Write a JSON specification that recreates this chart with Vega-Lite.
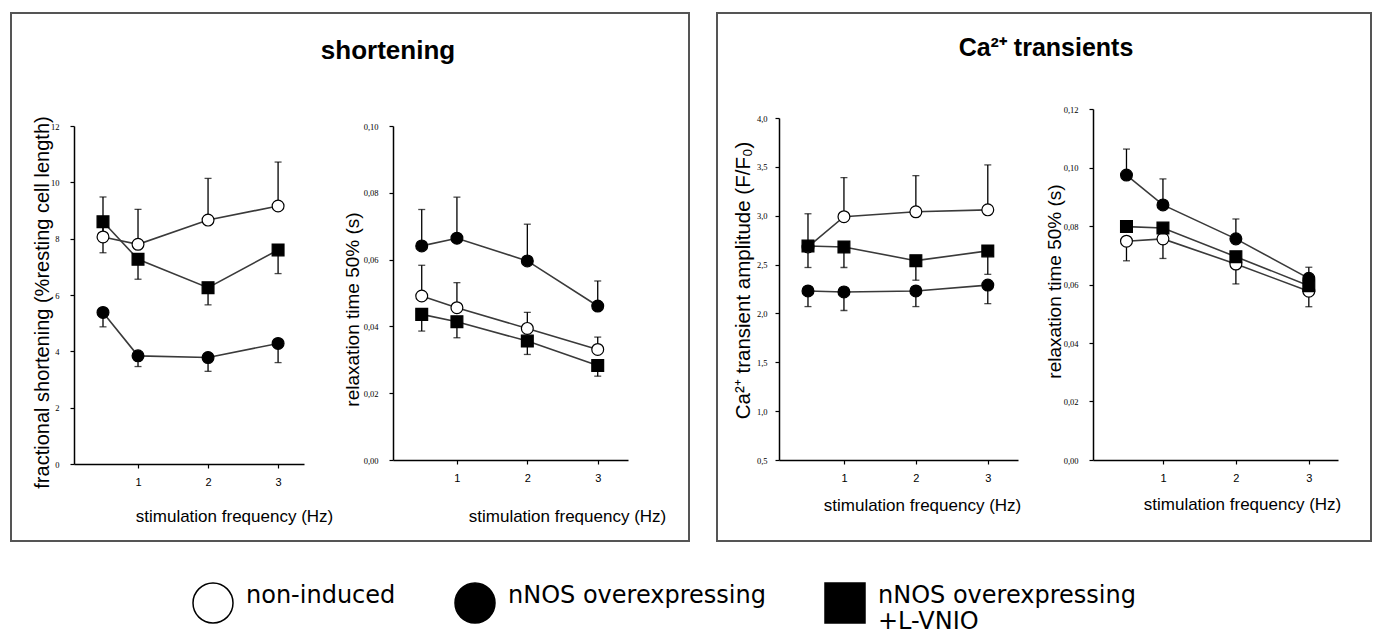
{
  "$schema": "https://vega.github.io/schema/vega-lite/v6.json",
  "padding": {"left": 10, "top": 12, "right": 0, "bottom": 0},
  "background": "white",
  "datasets": {
    "d": [
      {"p": 1, "g": "non-induced", "x": 0.5, "v": 8.06, "e": 9.48},
      {"p": 1, "g": "non-induced", "x": 1, "v": 7.8, "e": 9.04},
      {"p": 1, "g": "non-induced", "x": 2, "v": 8.66, "e": 10.14},
      {"p": 1, "g": "non-induced", "x": 3, "v": 9.16, "e": 10.72},
      {"p": 1, "g": "nNOS overexpressing", "x": 0.5, "v": 5.38, "e": 4.87},
      {"p": 1, "g": "nNOS overexpressing", "x": 1, "v": 3.84, "e": 3.46},
      {"p": 1, "g": "nNOS overexpressing", "x": 2, "v": 3.78, "e": 3.29},
      {"p": 1, "g": "nNOS overexpressing", "x": 3, "v": 4.28, "e": 3.6},
      {"p": 1, "g": "nNOS overexpressing +L-VNIO", "x": 0.5, "v": 8.6, "e": 7.5},
      {"p": 1, "g": "nNOS overexpressing +L-VNIO", "x": 1, "v": 7.27, "e": 6.56},
      {"p": 1, "g": "nNOS overexpressing +L-VNIO", "x": 2, "v": 6.26, "e": 5.65},
      {"p": 1, "g": "nNOS overexpressing +L-VNIO", "x": 3, "v": 7.6, "e": 6.76},

      {"p": 2, "g": "non-induced", "x": 0.5, "v": 0.0491, "e": 0.0583},
      {"p": 2, "g": "non-induced", "x": 1, "v": 0.0456, "e": 0.0531},
      {"p": 2, "g": "non-induced", "x": 2, "v": 0.0394, "e": 0.0442},
      {"p": 2, "g": "non-induced", "x": 3, "v": 0.0331, "e": 0.0368},
      {"p": 2, "g": "nNOS overexpressing", "x": 0.5, "v": 0.0641, "e": 0.075},
      {"p": 2, "g": "nNOS overexpressing", "x": 1, "v": 0.0664, "e": 0.0787},
      {"p": 2, "g": "nNOS overexpressing", "x": 2, "v": 0.0596, "e": 0.0706},
      {"p": 2, "g": "nNOS overexpressing", "x": 3, "v": 0.0461, "e": 0.0536},
      {"p": 2, "g": "nNOS overexpressing +L-VNIO", "x": 0.5, "v": 0.0436, "e": 0.0386},
      {"p": 2, "g": "nNOS overexpressing +L-VNIO", "x": 1, "v": 0.0414, "e": 0.0366},
      {"p": 2, "g": "nNOS overexpressing +L-VNIO", "x": 2, "v": 0.0356, "e": 0.0316},
      {"p": 2, "g": "nNOS overexpressing +L-VNIO", "x": 3, "v": 0.0283, "e": 0.0251},

      {"p": 3, "g": "non-induced", "x": 0.5, "v": 2.68, "e": 3.02},
      {"p": 3, "g": "non-induced", "x": 1, "v": 2.99, "e": 3.39},
      {"p": 3, "g": "non-induced", "x": 2, "v": 3.04, "e": 3.41},
      {"p": 3, "g": "non-induced", "x": 3, "v": 3.06, "e": 3.52},
      {"p": 3, "g": "nNOS overexpressing", "x": 0.5, "v": 2.23, "e": 2.07},
      {"p": 3, "g": "nNOS overexpressing", "x": 1, "v": 2.22, "e": 2.03},
      {"p": 3, "g": "nNOS overexpressing", "x": 2, "v": 2.23, "e": 2.07},
      {"p": 3, "g": "nNOS overexpressing", "x": 3, "v": 2.29, "e": 2.1},
      {"p": 3, "g": "nNOS overexpressing +L-VNIO", "x": 0.5, "v": 2.69, "e": 2.47},
      {"p": 3, "g": "nNOS overexpressing +L-VNIO", "x": 1, "v": 2.68, "e": 2.47},
      {"p": 3, "g": "nNOS overexpressing +L-VNIO", "x": 2, "v": 2.54, "e": 2.34},
      {"p": 3, "g": "nNOS overexpressing +L-VNIO", "x": 3, "v": 2.64, "e": 2.4},

      {"p": 4, "g": "non-induced", "x": 0.5, "v": 0.0748, "e": 0.0681},
      {"p": 4, "g": "non-induced", "x": 1, "v": 0.0756, "e": 0.0689},
      {"p": 4, "g": "non-induced", "x": 2, "v": 0.067, "e": 0.0602},
      {"p": 4, "g": "non-induced", "x": 3, "v": 0.0577, "e": 0.0524},
      {"p": 4, "g": "nNOS overexpressing", "x": 0.5, "v": 0.0974, "e": 0.1063},
      {"p": 4, "g": "nNOS overexpressing", "x": 1, "v": 0.0872, "e": 0.0961},
      {"p": 4, "g": "nNOS overexpressing", "x": 2, "v": 0.0756, "e": 0.0824},
      {"p": 4, "g": "nNOS overexpressing", "x": 3, "v": 0.0621, "e": 0.0659},
      {"p": 4, "g": "nNOS overexpressing +L-VNIO", "x": 0.5, "v": 0.0798, "e": 0.0798},
      {"p": 4, "g": "nNOS overexpressing +L-VNIO", "x": 1, "v": 0.0793, "e": 0.0793},
      {"p": 4, "g": "nNOS overexpressing +L-VNIO", "x": 2, "v": 0.0695, "e": 0.0695},
      {"p": 4, "g": "nNOS overexpressing +L-VNIO", "x": 3, "v": 0.0596, "e": 0.0596}
    ]
  },
  "bounds": "flush",
  "spacing": 28,
  "hconcat": [
    {
      "width": 678, "height": 528,
      "view": {"stroke": "#555", "strokeWidth": 2},
      "title": {"text": "shortening", "offset": -51, "dx": 38},
      "data": {"name": "d"},
      "resolve": {"scale": {"x": "independent", "y": "independent"}, "axis": {"x": "independent", "y": "independent"}},
      "layer": [
        {
          "transform": [{"filter": "datum.p == 1"}],
          "encoding": {
            "x": {"field": "x", "type": "quantitative", "scale": {"domain": [0.086, 3.37], "range": [63, 293], "nice": false, "zero": false},
              "axis": {"orient": "bottom", "offset": -77, "values": [1, 2, 3], "format": "d", "title": "stimulation frequency (Hz)", "titleX": 223, "titleY": 52}},
            "y": {"field": "v", "type": "quantitative", "title": "fractional shortening (%resting  cell length)", "scale": {"domain": [0, 12], "range": [451, 113], "nice": false, "zero": false},
              "axis": {"orient": "left", "offset": -63, "values": [0, 2, 4, 6, 8, 10, 12], "format": "d", "labelPadding": 11, "titleFontSize": 20, "titleX": -32, "titleY": 289}}
          },
          "layer": [
            {"mark": {"type": "line", "color": "#3a3a3a", "strokeWidth": 1.6}, "encoding": {"detail": {"field": "g"}}},
            {"mark": {"type": "rule", "color": "black", "strokeWidth": 1.3}, "encoding": {"y2": {"field": "e"}}},
            {"mark": {"type": "tick", "orient": "horizontal", "color": "black", "size": 7, "thickness": 1.3}, "encoding": {"y": {"field": "e", "type": "quantitative", "title": "fractional shortening (%resting  cell length)"}}},
            {"mark": {"type": "point", "filled": true, "strokeWidth": 1.2, "size": 140, "opacity": 1},
              "encoding": {
                "shape": {"field": "g", "type": "nominal", "scale": {"domain": ["non-induced", "nNOS overexpressing", "nNOS overexpressing +L-VNIO"], "range": ["circle", "circle", "square"]},
                  "legend": {"title": null, "orient": "none", "legendX": 181, "legendY": 569, "direction": "horizontal", "symbolSize": 1600, "symbolStrokeWidth": 1.5, "labelFontSize": 24, "labelFont": "DejaVu Sans", "labelColor": "black", "labelBaseline": "alphabetic", "labelLimit": 500, "labelOffset": 12, "columnPadding": 56, "padding": 0, "labelExpr": "datum.label == 'nNOS overexpressing +L-VNIO' ? ['nNOS overexpressing', ' +L-VNIO'] : [datum.label, '']"}},
                "fill": {"field": "g", "type": "nominal", "scale": {"domain": ["non-induced", "nNOS overexpressing", "nNOS overexpressing +L-VNIO"], "range": ["white", "black", "black"]},
                  "legend": {"title": null, "orient": "none", "legendX": 181, "legendY": 569, "direction": "horizontal", "symbolSize": 1600, "symbolStrokeWidth": 1.5, "labelFontSize": 24, "labelFont": "DejaVu Sans", "labelColor": "black", "labelBaseline": "alphabetic", "labelLimit": 500, "labelOffset": 12, "columnPadding": 56, "padding": 0, "labelExpr": "datum.label == 'nNOS overexpressing +L-VNIO' ? ['nNOS overexpressing', ' +L-VNIO'] : [datum.label, '']"}},
                "stroke": {"field": "g", "type": "nominal", "scale": {"domain": ["non-induced", "nNOS overexpressing", "nNOS overexpressing +L-VNIO"], "range": ["black", "black", "black"]},
                  "legend": {"title": null, "orient": "none", "legendX": 181, "legendY": 569, "direction": "horizontal", "symbolSize": 1600, "symbolStrokeWidth": 1.5, "labelFontSize": 24, "labelFont": "DejaVu Sans", "labelColor": "black", "labelBaseline": "alphabetic", "labelLimit": 500, "labelOffset": 12, "columnPadding": 56, "padding": 0, "labelExpr": "datum.label == 'nNOS overexpressing +L-VNIO' ? ['nNOS overexpressing', ' +L-VNIO'] : [datum.label, '']"}}
              }}
          ]
        },
        {
          "transform": [{"filter": "datum.p == 2"}],
          "encoding": {
            "x": {"field": "x", "type": "quantitative", "scale": {"domain": [0.092, 3.43], "range": [382, 617], "nice": false, "zero": false},
              "axis": {"orient": "bottom", "offset": -81, "values": [1, 2, 3], "format": "d", "title": "stimulation frequency (Hz)", "titleX": 556, "titleY": 56}},
            "y": {"field": "v", "type": "quantitative", "title": "relaxation time 50% (s)", "scale": {"domain": [0, 0.1], "range": [447, 113], "nice": false, "zero": false},
              "axis": {"orient": "left", "offset": -382, "values": [0, 0.02, 0.04, 0.06, 0.08, 0.1], "labelExpr": "replace(format(datum.value, '.2f'), '.', ',')", "labelPadding": 11, "titleX": -41, "titleY": 296}}
          },
          "layer": [
            {"mark": {"type": "line", "color": "#3a3a3a", "strokeWidth": 1.6}, "encoding": {"detail": {"field": "g"}}},
            {"mark": {"type": "rule", "color": "black", "strokeWidth": 1.3}, "encoding": {"y2": {"field": "e"}}},
            {"mark": {"type": "tick", "orient": "horizontal", "color": "black", "size": 7, "thickness": 1.3}, "encoding": {"y": {"field": "e", "type": "quantitative", "title": "relaxation time 50% (s)"}}},
            {"mark": {"type": "point", "filled": true, "strokeWidth": 1.2, "size": 140, "opacity": 1},
              "encoding": {
                "shape": {"field": "g", "type": "nominal"},
                "fill": {"field": "g", "type": "nominal"},
                "stroke": {"field": "g", "type": "nominal"}
              }}
          ]
        }
      ]
    },
    {
      "width": 654, "height": 528,
      "view": {"stroke": "#555", "strokeWidth": 2},
      "title": {"text": "Ca²⁺ transients", "offset": -48, "dx": 2, "fontSize": 25},
      "data": {"name": "d"},
      "resolve": {"scale": {"x": "independent", "y": "independent"}, "axis": {"x": "independent", "y": "independent"}},
      "layer": [
        {
          "transform": [{"filter": "datum.p == 3"}],
          "encoding": {
            "x": {"field": "x", "type": "quantitative", "scale": {"domain": [0.097, 3.42], "range": [62, 301], "nice": false, "zero": false},
              "axis": {"orient": "bottom", "offset": -81, "values": [1, 2, 3], "format": "d", "title": "stimulation frequency (Hz)", "titleX": 205, "titleY": 45}},
            "y": {"field": "v", "type": "quantitative", "title": "Ca²⁺ transient  amplitude (F/F₀)", "scale": {"domain": [0.5, 4], "range": [447, 105], "nice": false, "zero": false},
              "axis": {"orient": "left", "offset": -62, "values": [0.5, 1, 1.5, 2, 2.5, 3, 3.5, 4], "labelExpr": "replace(format(datum.value, '.1f'), '.', ',')", "labelPadding": 8, "titleFontSize": 20.5, "titleX": -36, "titleY": 267}}
          },
          "layer": [
            {"mark": {"type": "line", "color": "#3a3a3a", "strokeWidth": 1.6}, "encoding": {"detail": {"field": "g"}}},
            {"mark": {"type": "rule", "color": "black", "strokeWidth": 1.3}, "encoding": {"y2": {"field": "e"}}},
            {"mark": {"type": "tick", "orient": "horizontal", "color": "black", "size": 7, "thickness": 1.3}, "encoding": {"y": {"field": "e", "type": "quantitative", "title": "Ca²⁺ transient  amplitude (F/F₀)"}}},
            {"mark": {"type": "point", "filled": true, "strokeWidth": 1.2, "size": 140, "opacity": 1},
              "encoding": {
                "shape": {"field": "g", "type": "nominal"},
                "fill": {"field": "g", "type": "nominal"},
                "stroke": {"field": "g", "type": "nominal"}
              }}
          ]
        },
        {
          "transform": [{"filter": "datum.p == 4"}],
          "encoding": {
            "x": {"field": "x", "type": "quantitative", "scale": {"domain": [0.041, 3.4], "range": [376, 621], "nice": false, "zero": false},
              "axis": {"orient": "bottom", "offset": -81, "values": [1, 2, 3], "format": "d", "title": "stimulation frequency (Hz)", "titleX": 525, "titleY": 44}},
            "y": {"field": "v", "type": "quantitative", "title": "relaxation time 50% (s)", "scale": {"domain": [0, 0.12], "range": [447, 96], "nice": false, "zero": false},
              "axis": {"orient": "left", "offset": -376, "values": [0, 0.02, 0.04, 0.06, 0.08, 0.1, 0.12], "labelExpr": "replace(format(datum.value, '.2f'), '.', ',')", "labelPadding": 11, "titleX": -39, "titleY": 268}}
          },
          "layer": [
            {"mark": {"type": "line", "color": "#3a3a3a", "strokeWidth": 1.6}, "encoding": {"detail": {"field": "g"}}},
            {"mark": {"type": "rule", "color": "black", "strokeWidth": 1.3}, "encoding": {"y2": {"field": "e"}}},
            {"mark": {"type": "tick", "orient": "horizontal", "color": "black", "size": 7, "thickness": 1.3}, "encoding": {"y": {"field": "e", "type": "quantitative", "title": "relaxation time 50% (s)"}}},
            {"mark": {"type": "point", "filled": true, "strokeWidth": 1.2, "size": 140, "opacity": 1},
              "encoding": {
                "shape": {"field": "g", "type": "nominal"},
                "fill": {"field": "g", "type": "nominal"},
                "stroke": {"field": "g", "type": "nominal"}
              }}
          ]
        }
      ]
    }
  ],
  "config": {
    "view": {"stroke": null},
    "font": "Liberation Sans",
    "axis": {"grid": false, "domainColor": "black", "domainWidth": 1.5, "tickColor": "black", "tickWidth": 1.2, "tickSize": 4, "labelColor": "black", "titleColor": "black", "titleFontWeight": "normal", "labelFont": "Liberation Sans", "titleFont": "Liberation Sans"},
    "axisX": {"labelFontSize": 11, "labelPadding": 8, "titleFontSize": 17, "titleBaseline": "middle", "titleAlign": "center"},
    "axisY": {"labelFontSize": 8.5, "labelFont": "Liberation Serif", "labelPadding": 8, "titleFontSize": 19, "titleBaseline": "middle", "titleAlign": "center", "titleAngle": -90},
    "title": {"font": "Liberation Sans", "fontSize": 26, "fontWeight": "bold", "color": "black", "anchor": "middle", "baseline": "alphabetic"}
  }
}
